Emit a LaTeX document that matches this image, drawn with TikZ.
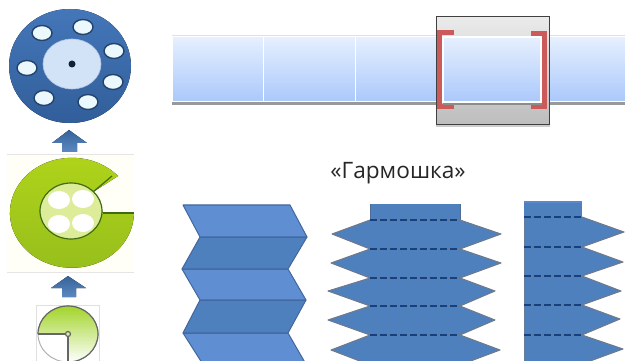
\documentclass[tikz,border=0pt]{standalone}
\usepackage{fontspec}
\setmainfont{Open Sans}
\definecolor{stripTop}{HTML}{E6F0FE}
\definecolor{stripBot}{HTML}{ABC8FB}
\definecolor{foldLight}{HTML}{5F8FD2}
\definecolor{foldDark}{HTML}{4F80BE}
\definecolor{foldLine}{HTML}{41679F}
\definecolor{dashLine}{HTML}{17407F}
\definecolor{diskBlue}{HTML}{3A6FB5}
\definecolor{diskCore}{HTML}{D2E2F7}
\definecolor{arrowBlue}{HTML}{3F74B5}
\definecolor{leafTop}{HTML}{B0D41A}
\definecolor{leafBot}{HTML}{96BE1C}
\definecolor{leafLine}{HTML}{3F6B12}
\definecolor{pieGreen}{HTML}{A2D42A}
\definecolor{redBracket}{HTML}{CB5A5A}
\tikzset{
  stripcell/.style={draw=white,line width=1.2pt,top color=stripTop,bottom color=stripBot},
  fold/.style={draw=foldLine,line width=1pt,line join=round},
  lobe/.style={fill=foldDark,draw=gray!75!foldLine,line width=1pt,line join=round},
  crease/.style={draw=dashLine,line width=1.6pt,dash pattern=on 7pt off 3pt},
  hole/.style={fill=white!92!cyan,draw=diskBlue!60!black,line width=1.4pt},
  upvector/.style={top color=arrowBlue!85!black,bottom color=arrowBlue!85!white,draw=none},
  bracket/.style={draw=redBracket,line width=5pt,line cap=butt,line join=miter},
  picrule/.style={draw=black!10,line width=1pt}
}
\begin{document}
\begin{tikzpicture}[x=1pt,y=-1pt]
\useasboundingbox (0,0) rectangle (625,361);
\clip (0,0) rectangle (625,361);
% disk
\fill[top color=diskBlue!95!white,bottom color=diskBlue!85!black] (70,66) circle[x radius=61pt,y radius=57pt];
\fill[diskCore,draw=white!60!diskBlue,line width=0.6pt] (72,64) circle[x radius=29pt,y radius=25pt];
\fill[black!70!diskBlue] (72,64) circle[radius=3.5pt];
\draw[hole] (42,33) circle[x radius=10pt,y radius=7.5pt];
\draw[hole] (83,27) circle[x radius=10pt,y radius=7.5pt];
\draw[hole] (114,51) circle[x radius=10pt,y radius=7.5pt];
\draw[hole] (27,68) circle[x radius=10pt,y radius=7.5pt];
\draw[hole] (113,82) circle[x radius=10pt,y radius=7.5pt];
\draw[hole] (44,98) circle[x radius=10pt,y radius=7.5pt];
\draw[hole] (88,102) circle[x radius=10pt,y radius=7.5pt];
% arrows
\fill[upvector] (69,130) -- (87,143) -- (77,143) -- (77,152) -- (62,152) -- (62,143) -- (52,143) -- cycle;
\fill[upvector] (68,276) -- (86,288) -- (76,288) -- (76,297) -- (62,297) -- (62,288) -- (51,288) -- cycle;
% green spool
\fill[yellow!3] (7,155) rectangle (134,272);
\draw[picrule] (7,155) -- (134,155);
\draw[picrule] (7,272) -- (134,272);
\fill[top color=leafTop,bottom color=leafBot] (118,176) arc[start angle=42,end angle=360,x radius=62pt,y radius=55pt] -- (103,213) -- (93,192) -- cycle;
\draw[leafLine,line width=1.2pt] (103,213) -- (134,213);
\draw[leafLine,line width=1.2pt] (93,192) -- (112,176);
\fill[leafTop!45!white,draw=leafLine,line width=1.2pt] (71,211) circle[x radius=31pt,y radius=28pt];
\fill[white] (59,200) circle[x radius=11pt,y radius=9pt];
\fill[white] (83,199) circle[x radius=11pt,y radius=9pt];
\fill[white] (59,224) circle[x radius=11pt,y radius=9pt];
\fill[white] (83,223) circle[x radius=11pt,y radius=9pt];
% small pie
\draw[black!12,fill=white] (36,305) rectangle (99,362);
\draw[black!30,line width=1pt] (68,334) circle[x radius=30pt,y radius=28pt];
\fill[top color=pieGreen,bottom color=white] (68,334) -- (68,362) arc[start angle=270,end angle=540,x radius=30pt,y radius=28pt] -- cycle;
\draw[black!60,line width=1.2pt] (38,334) -- (68,334) -- (68,362);
\draw[black!60,line width=1.2pt] (68,362) arc[start angle=270,end angle=540,x radius=30pt,y radius=28pt];
\fill[pieGreen!40,draw=black!60,line width=1.2pt] (68,334) circle[radius=2.5pt];
% strip
\fill[black!40] (172,101) rectangle (625,105);
\fill[black!12] (172,35) rectangle (625,37);
\draw[stripcell] (172.5,36.5) rectangle (263.5,101.5);
\draw[stripcell] (263.5,36.5) rectangle (355.5,101.5);
\draw[stripcell] (355.5,36.5) rectangle (446,101.5);
\draw[stripcell] (540,36.5) rectangle (630,101.5);
% viewing frame
\fill[black!20] (436,19) rectangle (550,127);
\draw[black!75,line width=1pt,top color=black!8,bottom color=black!26] (436,17) rectangle (549,125);
\draw[bracket] (454,33) -- (439.5,33) -- (439.5,106.5) -- (454,106.5);
\draw[bracket] (531,33.5) -- (544.5,33.5) -- (544.5,107) -- (531,107);
\fill[black!45] (443,101) rectangle (542,105);
\draw[stripcell,line width=2pt] (443,37) rectangle (541,102);
% label
\node[font=\fontsize{22.6pt}{26pt}\selectfont,text=black!85] (caption) at (398,173) {«Гармошка»};
% left fold
\fill[fill=foldLight] (183,205) -- (290,205) -- (307,237) -- (200,237) -- cycle;
\fill[fill=foldDark] (200,237) -- (307,237) -- (288,269) -- (182,269) -- cycle;
\fill[fill=foldLight] (182,269) -- (288,269) -- (306,300) -- (200,300) -- cycle;
\fill[fill=foldDark] (200,300) -- (306,300) -- (288,333) -- (183,333) -- cycle;
\fill[fill=foldLight] (183,333) -- (288,333) -- (307,366) -- (204,366) -- cycle;
\draw[fold] (183,205) -- (290,205) -- (307,237) -- (200,237) -- cycle;
\draw[fold] (200,237) -- (307,237) -- (288,269) -- (182,269) -- cycle;
\draw[fold] (182,269) -- (288,269) -- (306,300) -- (200,300) -- cycle;
\draw[fold] (200,300) -- (306,300) -- (288,333) -- (183,333) -- cycle;
\draw[fold] (183,333) -- (288,333) -- (307,366) -- (204,366) -- cycle;
% middle fold
\fill[foldDark] (370,204) rectangle (460,220);
\draw[foldLine!80!gray,line width=0.8pt] (370,204) -- (370,220) (460,204) -- (460,220);
\draw[lobe] (370,220) -- (460,220) -- (501,234) -- (460,249) -- (370,249) -- (332,234) -- cycle;
\draw[lobe] (370,249) -- (460,249) -- (501,263) -- (460,278) -- (370,278) -- (331,263) -- cycle;
\draw[lobe] (370,278) -- (460,278) -- (495,291) -- (460,306) -- (370,306) -- (328,291) -- cycle;
\draw[lobe] (370,306) -- (460,306) -- (495,320) -- (460,335) -- (370,335) -- (328,320) -- cycle;
\draw[lobe] (370,335) -- (460,335) -- (500,350) -- (460,365) -- (370,365) -- (331,350) -- cycle;
\draw[crease] (370,220) -- (460,220);
\draw[crease] (370,249) -- (460,249);
\draw[crease] (370,278) -- (460,278);
\draw[crease] (370,306) -- (460,306);
\draw[crease] (370,335) -- (460,335);
% right fold
\fill[foldDark] (524,201) rectangle (582,217);
\fill[foldLight!60!foldDark] (524,201) rectangle (582,203);
\draw[lobe] (524,217) -- (582,217) -- (624,232) -- (582,247) -- (524,247) -- cycle;
\draw[lobe] (524,247) -- (582,247) -- (623,262) -- (582,276) -- (524,276) -- cycle;
\draw[lobe] (524,276) -- (582,276) -- (621,291) -- (582,305) -- (524,305) -- cycle;
\draw[lobe] (524,305) -- (582,305) -- (620,319) -- (582,335) -- (524,335) -- cycle;
\draw[lobe] (524,335) -- (582,335) -- (623,349) -- (582,364) -- (524,364) -- cycle;
\draw[white,line width=1.2pt] (523.4,216) -- (523.4,361);
\draw[crease] (524,217) -- (582,217);
\draw[crease] (524,247) -- (582,247);
\draw[crease] (524,276) -- (582,276);
\draw[crease] (524,305) -- (582,305);
\draw[crease] (524,335) -- (582,335);
\end{tikzpicture}
\end{document}
